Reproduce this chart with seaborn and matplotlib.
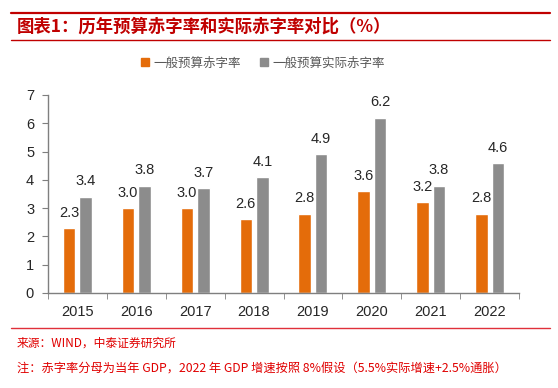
import pandas as pd
import seaborn as sns
import matplotlib.pyplot as plt
from matplotlib.lines import Line2D

# data
years = ["2015", "2016", "2017", "2018", "2019", "2020", "2021", "2022"]
budget_rate = [2.3, 3.0, 3.0, 2.6, 2.8, 3.6, 3.2, 2.8]
actual_rate = [3.4, 3.8, 3.7, 4.1, 4.9, 6.2, 3.8, 4.6]
series_names = ["一般预算赤字率", "一般预算实际赤字率"]
colors = ["#E46C0A", "#8C8C8C"]

df = pd.DataFrame({
    "year": years * 2,
    "value": budget_rate + actual_rate,
    "series": [series_names[0]] * len(years) + [series_names[1]] * len(years),
})

sns.set_style("white")
plt.rcParams["font.family"] = ["Noto Sans CJK SC", "DejaVu Sans"]

fig = plt.figure(figsize=(5.58, 3.88), dpi=100)
ax = fig.add_axes([48 / 558, 1 - 293 / 388, (519 - 48) / 558, (293 - 95) / 388])

sns.barplot(data=df, x="year", y="value", hue="series", palette=colors,
            width=0.56, gap=0.24, saturation=1, ax=ax, legend=False)

for cont in ax.containers:
    ax.bar_label(cont, fmt="%.1f", padding=6, fontsize=10.5, color="#262626",
                 family="Liberation Sans")

ax.set_xlim(-0.5, len(years) - 0.5)
ax.set_ylim(0, 7)
ax.set_yticks(range(0, 8))
ax.set_xlabel("")
ax.set_ylabel("")
for s in ["top", "right"]:
    ax.spines[s].set_visible(False)
for s in ["left", "bottom"]:
    ax.spines[s].set_color("#7F7F7F")
    ax.spines[s].set_linewidth(1)
ax.tick_params(axis="y", left=True, length=4, color="#7F7F7F", labelsize=10.5,
               labelcolor="#262626", pad=6)
ax.tick_params(axis="x", bottom=False, labelsize=10.5, labelcolor="#262626", pad=5)
ax.set_xticks([i - 0.5 for i in range(len(years) + 1)], minor=True)
ax.tick_params(axis="x", which="minor", bottom=True, length=4, color="#7F7F7F")
for lbl in ax.get_xticklabels() + ax.get_yticklabels():
    lbl.set_family("Liberation Sans")

# legend
handles = [Line2D([], [], marker="s", linestyle="", markersize=5.5, color=c) for c in colors]
fig.legend(handles, series_names, loc="center", bbox_to_anchor=(0.468, 1 - 63 / 388),
           ncol=2, frameon=False, fontsize=9, handletextpad=0.1, columnspacing=1.2,
           handlelength=1.2, labelcolor="#595959")

# header and footer decorations
red = "#C00000"
fig.add_artist(Line2D([0.02, 0.985], [1 - 13 / 388] * 2, color=red, lw=1.6))
fig.add_artist(Line2D([0.02, 0.985], [1 - 40 / 388] * 2, color=red, lw=1.0))
fig.text(0.03, 1 - 27 / 388, "图表1：历年预算赤字率和实际赤字率对比（%）", color=red,
         fontsize=12.5, fontweight="bold", style="italic", va="center")
fig.add_artist(Line2D([0.02, 0.985], [1 - 328 / 388] * 2, color="#E0303A", lw=1.0))
fig.text(0.03, 1 - 343 / 388, "来源：WIND，中泰证券研究所", color="#E00000",
         fontsize=8.5, va="center")
fig.text(0.03, 1 - 368 / 388,
         "注：赤字率分母为当年 GDP，2022 年 GDP 增速按照 8%假设（5.5%实际增速+2.5%通胀）",
         color="#E00000", fontsize=8.8, va="center")

fig.savefig("out.png", dpi=100)
